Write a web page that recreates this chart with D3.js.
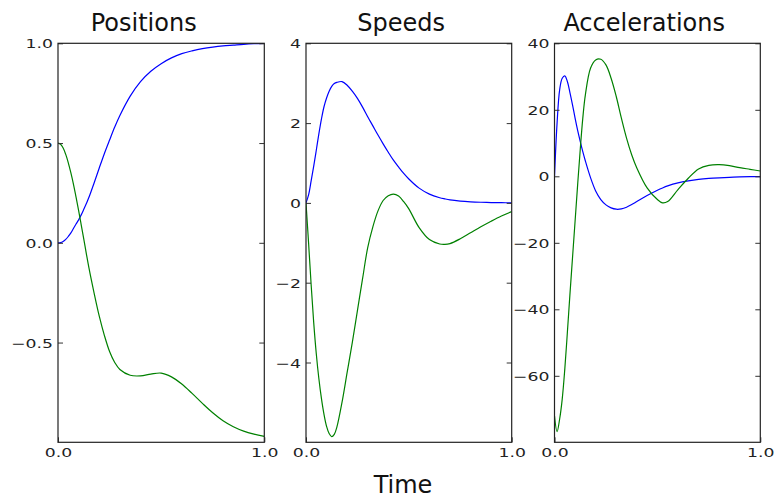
<!DOCTYPE html>
<html>
<head>
<meta charset="utf-8">
<script src="https://cdn.jsdelivr.net/npm/d3@7/dist/d3.min.js"></script>
<style>
  html, body { margin: 0; padding: 0; background: #fff; }
  svg { display: block; font-family: "DejaVu Sans", sans-serif; }
</style>
</head>
<body>
<svg id="chart" width="777" height="499"></svg>
<script>
// ---- data ---------------------------------------------------------------
const positionTime = [0, .0125, .025, .0375, .05, .0625, .075, .0875, .1, .1125, .125, .1375, .15,
  .175, .2, .225, .25, .275, .3, .35, .4, .45, .5, .55, .6, .65, .7, .75, .8, .85, .9, .95, 1];
const positionBlue = [0, .001, .007, .017, .032, .05, .072, .094, .115, .14, .168, .197, .228,
  .3, .375, .448, .515, .58, .638, .735, .808, .86, .898, .927, .948, .962, .973, .981, .987, .991, .995, .998, 1];
const positionGreen = [.5, .494, .475, .443, .401, .35, .293, .229, .161, .09, .018, -.055, -.126,
  -.252, -.368, -.465, -.545, -.6, -.635, -.664, -.667, -.658, -.653, -.672, -.708, -.755, -.805, -.852, -.892, -.922, -.944, -.959, -.97];

const speedTime = [0, .0125, .025, .0375, .05, .0625, .075, .0875, .1, .1125, .125, .1375, .15,
  .175, .2, .225, .25, .275, .3, .325, .35, .375, .4, .425, .45, .475, .5, .55, .6, .65, .675, .7,
  .75, .8, .85, .9, .95, 1];
const speedBlue = [0, .2, .55, .92, 1.32, 1.73, 2.1, 2.41, 2.63, 2.8, 2.92, 2.99, 3.02,
  3.04, 2.95, 2.8, 2.62, 2.4, 2.16, 1.93, 1.7, 1.48, 1.27, 1.07, .9, .74, .6, .37, .22, .13, .1, .075,
  .045, .027, .016, .009, .005, .003];
const speedGreen = [0, -1.0, -2.05, -3.0, -3.78, -4.4, -4.9, -5.3, -5.6, -5.78, -5.86, -5.8, -5.62,
  -5.0, -4.25, -3.5, -2.7, -1.9, -1.12, -.6, -.2, .06, .18, .22, .17, .03, -.15, -.62, -.92, -1.03, -1.04, -1.02,
  -.9, -.75, -.6, -.46, -.33, -.22];

const accelTime = [0, .0125, .025, .0375, .05, .0625, .075, .0875, .1, .1125, .125, .1375, .15,
  .175, .2, .225, .25, .275, .3, .325, .35, .375, .4, .45, .5, .525, .55, .6, .65, .7, .75, .8, .85, .9, .95, 1];
const accelBlue = [0, 16, 26, 29.5, 30.2, 28.5, 25.2, 21.5, 17.5, 13.8, 10.5, 7.4, 4.6,
  -.4, -4.4, -7, -8.6, -9.5, -9.9, -9.8, -9.3, -8.5, -7.6, -5.8, -4.2, -3.5, -2.9, -2.0, -1.4, -.95, -.65, -.45, -.3, -.2, -.12, -.08];
const accelGreen = [-72, -76.8, -73, -67, -58, -47, -35.5, -24.5, -13.5, -2.5, 8, 17.5, 24.5,
  32.5, 35, 35.2, 33.5, 29.5, 24, 17.5, 11.5, 6.5, 2.5, -3.5, -7, -8, -7.6, -4, -.6, 2.2, 3.3, 3.5, 3.2, 2.6, 2.1, 1.6];

const panelTitles = ["Positions", "Speeds", "Accelerations"];
const yDomains = [[-1, 1], [-6, 4], [-80, 40]];
const yTicks = [[-0.5, 0, 0.5, 1], [-4, -2, 0, 2, 4], [-60, -40, -20, 0, 20, 40]];
const yFormats = [".1f", "d", "d"];
const xTicks = [0, 1];
const xLabel = "Time";

// ---- layout -------------------------------------------------------------
const plotTop = 43.3, plotBottom = 442.3;
const panelX = [[58, 264.3], [306, 511.7], [554.5, 760.3]];
const titleX = [143.7, 401.2, 644.2];
const stretch = 1.38;            // wide tick-label glyphs
const blue = "#0000ff", green = "#008000";

const panels = [
  { time: positionTime, series: [positionBlue, positionGreen] },
  { time: speedTime, series: [speedBlue, speedGreen] },
  { time: accelTime, series: [accelBlue, accelGreen] }
];

const svg = d3.select("#chart");
const minus = s => s.replace("-", "\u2212");

panels.forEach((p, i) => {
  const [x0, x1] = panelX[i];
  const x = d3.scaleLinear().domain([0, 1]).range([x0, x1]);
  const y = d3.scaleLinear().domain(yDomains[i]).range([plotBottom, plotTop]);
  const g = svg.append("g");

  g.append("clipPath").attr("id", "clip" + i)
    .append("rect").attr("x", x0).attr("y", plotTop).attr("width", x1 - x0).attr("height", plotBottom - plotTop);

  // curves
  const line = d3.line()
    .x((d, k) => x(p.time[k]))
    .y(d => y(d))
    .curve(d3.curveCatmullRom.alpha(0.5));
  [blue, green].forEach((c, k) => {
    g.append("path")
      .datum(p.series[k])
      .attr("d", line)
      .attr("fill", "none")
      .attr("stroke", c)
      .attr("stroke-width", 1.2)
      .attr("clip-path", `url(#clip${i})`);
  });

  const fmt = d3.format(yFormats[i]);

  // left axis: inward ticks and labels
  const left = g.append("g").attr("transform", `translate(${x0},0)`)
    .call(d3.axisLeft(y).tickValues(yTicks[i]).tickSizeInner(-5).tickSizeOuter(0)
      .tickPadding(5).tickFormat(d => minus(fmt(d))));
  left.select(".domain").remove();
  left.selectAll(".tick line").attr("stroke", "#333").attr("stroke-width", 1);
  left.selectAll(".tick text")
    .attr("x", null).attr("dy", null)
    .attr("transform", `translate(-5,4.5) scale(${stretch},1)`)
    .attr("text-anchor", "end")
    .attr("fill", "#222")
    .style("font-size", "12.5px")
    .style("font-family", "DejaVu Sans");

  // right axis: mirrored ticks only
  const right = g.append("g").attr("transform", `translate(${x1},0)`)
    .call(d3.axisRight(y).tickValues(yTicks[i]).tickSizeInner(-5).tickSizeOuter(0).tickFormat(""));
  right.select(".domain").remove();
  right.selectAll(".tick line").attr("stroke", "#333").attr("stroke-width", 1);

  // bottom axis
  const bot = g.append("g").attr("transform", `translate(0,${plotBottom})`)
    .call(d3.axisBottom(x).tickValues(xTicks).tickSizeInner(-5).tickSizeOuter(0)
      .tickFormat(d3.format(".1f")));
  bot.select(".domain").remove();
  bot.selectAll(".tick line").attr("stroke", "#333");
  bot.selectAll(".tick text")
    .attr("y", null).attr("dy", null)
    .attr("transform", `translate(0,15) scale(${stretch},1)`)
    .attr("text-anchor", "middle")
    .attr("fill", "#222")
    .style("font-size", "12.5px")
    .style("font-family", "DejaVu Sans");

  // frame
  g.append("rect")
    .attr("x", x0).attr("y", plotTop)
    .attr("width", x1 - x0).attr("height", plotBottom - plotTop)
    .attr("fill", "none").attr("stroke", "#222").attr("stroke-width", 1.2);

  // title
  g.append("text")
    .attr("x", titleX[i]).attr("y", 30.7)
    .attr("text-anchor", "middle")
    .style("font-size", "24px")
    .attr("fill", "#111")
    .text(panelTitles[i]);
});

svg.append("text")
  .attr("x", 403).attr("y", 493)
  .attr("text-anchor", "middle")
  .style("font-size", "24px")
  .attr("fill", "#111")
  .text(xLabel);
</script>
</body>
</html>
